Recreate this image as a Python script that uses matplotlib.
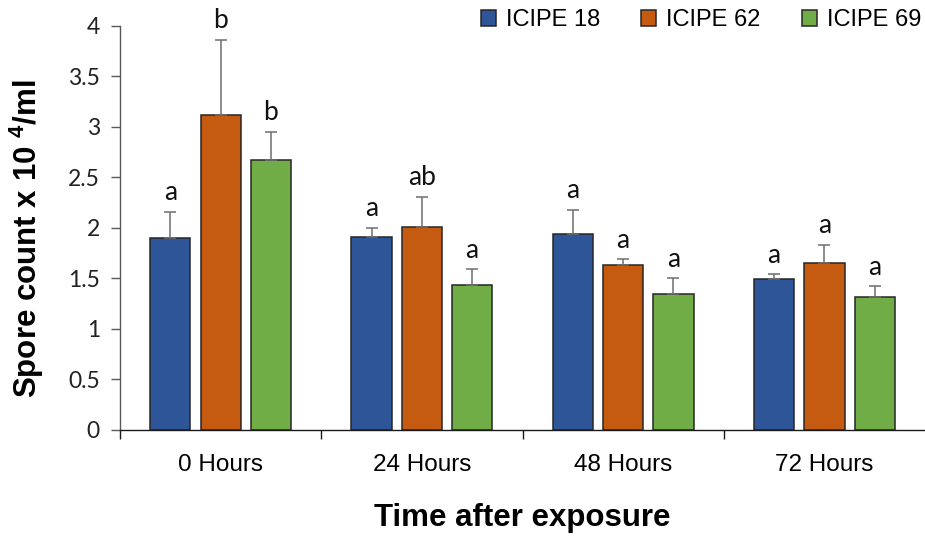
import numpy as np
import matplotlib
matplotlib.use("Agg")
import matplotlib.pyplot as plt
from matplotlib.ticker import FuncFormatter, FixedLocator

# Datos
times = ["0 Hours", "24 Hours", "48 Hours", "72 Hours"]
strains = ["ICIPE 18", "ICIPE 62", "ICIPE 69"]

icipe18 = [1.90, 1.91, 1.94, 1.49]
icipe62 = [3.12, 2.01, 1.63, 1.65]
icipe69 = [2.67, 1.43, 1.35, 1.32]

err18 = [0.26, 0.09, 0.24, 0.05]
err62 = [0.74, 0.30, 0.06, 0.18]
err69 = [0.28, 0.16, 0.15, 0.10]

let18 = ["a", "a", "a", "a"]
let62 = ["b", "ab", "a", "a"]
let69 = ["b", "a", "a", "a"]

colors = ["#2E5597", "#C55A11", "#70AD47"]

plt.rcParams['font.family'] = ['Liberation Sans', 'DejaVu Sans']
plt.rcParams['mathtext.fontset'] = 'custom'
plt.rcParams['mathtext.rm'] = 'Liberation Sans'
plt.rcParams['mathtext.bf'] = 'Liberation Sans:bold'

fig = plt.figure(figsize=(9.25, 5.36), dpi=100)
ax = fig.add_axes([120/925, 1 - 430/536, 805/925, (430 - 25.7)/536])

x = np.arange(len(times))
width = 0.2
offsets = [-0.25, 0.0, 0.25]
series = [icipe18, icipe62, icipe69]
errs = [err18, err62, err69]
letters = [let18, let62, let69]

for k in range(3):
    xs = x + offsets[k]
    ax.bar(xs, series[k], width, color=colors[k], edgecolor="#262626",
           linewidth=1.1, label=strains[k], zorder=2)
    ax.errorbar(xs, series[k], yerr=[np.zeros(4), errs[k]], fmt="none",
                ecolor="#6E6E6E", elinewidth=1.1, capsize=4.6,
                capthick=1.1, zorder=3)
    for xi, v, e, t in zip(xs, series[k], errs[k], letters[k]):
        ax.annotate(t, (xi, v + e), xytext=(0, 8.4), textcoords="offset points",
                    ha="center", va="baseline", fontsize=19, family="Lato",
                    color="#111111")

ax.set_xlim(-0.5, 3.5)
ax.set_ylim(0, 4)

ax.spines['top'].set_visible(False)
ax.spines['right'].set_visible(False)
ax.spines['left'].set_color("#595959")
ax.spines['left'].set_linewidth(1.0)
ax.spines['bottom'].set_color("#1A1A1A")
ax.spines['bottom'].set_linewidth(1.0)

ax.set_yticks(np.arange(0, 4.01, 0.5))
ax.yaxis.set_major_formatter(FuncFormatter(lambda v, p: f"{v:g}"))
ax.tick_params(axis='y', length=6.5, width=1.0, color="#595959", pad=8,
               labelsize=16.5)
for lab in ax.get_yticklabels():
    lab.set_family("Lato")
    lab.set_color("#222222")

ax.set_xticks(x)
ax.set_xticklabels(times)
ax.xaxis.set_minor_locator(FixedLocator([-0.5, 0.5, 1.5, 2.5]))
ax.tick_params(axis='x', which='major', length=0, pad=17, labelsize=17.5)
ax.tick_params(axis='x', which='minor', length=6.7, width=1.0, color="#1A1A1A")

ax.set_ylabel(r"Spore count x 10 $^{\mathbf{4}}$/ml", fontsize=22.5,
              fontweight="bold", va="center")
ax.yaxis.set_label_coords((27 - 120)/805, (430 - 239)/404.3)
ax.set_xlabel("Time after exposure", fontsize=22.5, fontweight="bold",
              va="center")
ax.xaxis.set_label_coords(0.5, (430 - 518)/404.3)

fig.legend(loc="upper right", bbox_to_anchor=(921/925, 1 - 9/536), ncol=3,
           frameon=False, fontsize=17, handlelength=0.64, handleheight=0.64,
           handletextpad=0.42, columnspacing=1.74, borderpad=0,
           borderaxespad=0)

fig.savefig("out.png", dpi=100)
